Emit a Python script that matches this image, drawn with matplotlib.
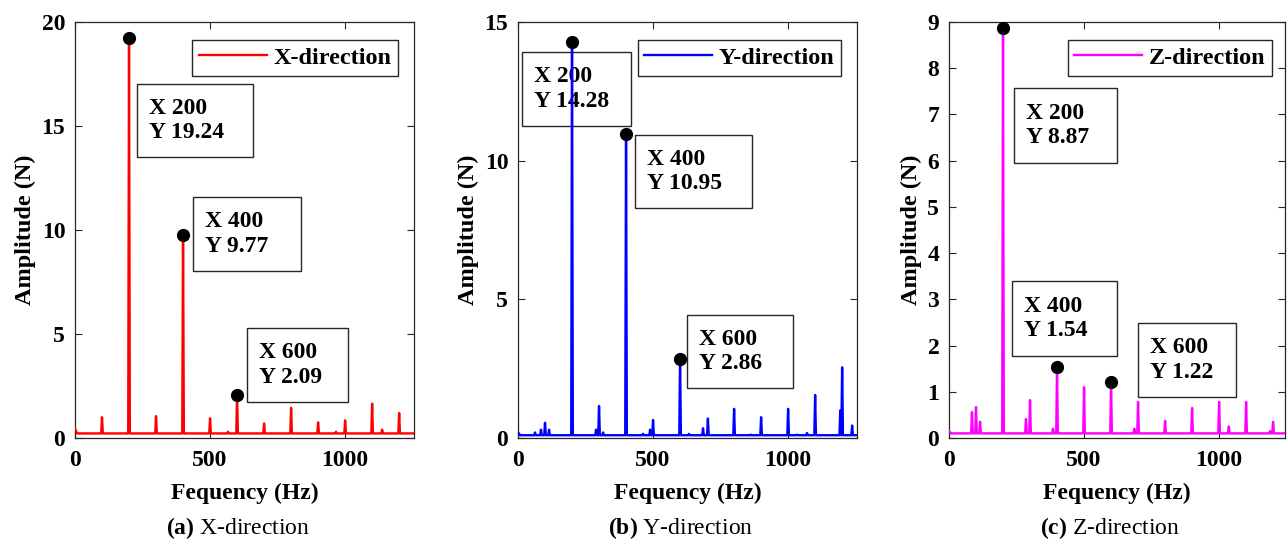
import matplotlib
matplotlib.use('Agg')
import matplotlib.pyplot as plt
from matplotlib.patches import Rectangle
import numpy as np


# =============================================================================
# DATA
# =============================================================================

# peaks (frequency in Hz, amplitude in N)
x_peak_f = [100, 200, 300, 400, 500, 566, 600, 700, 800, 900, 966, 1000, 1100, 1137, 1200]
x_peak_a = [1.0, 19.24, 1.05, 9.77, 0.95, 0.3, 2.09, 0.7, 1.45, 0.75, 0.3, 0.85, 1.65, 0.4, 1.2]
x_floor = 0.22
x_start = 0.45

y_peak_f = [63, 85, 100, 115, 200, 289, 300, 315, 400, 463, 489, 500, 600, 633, 685, 703,
            800, 862, 900, 1000, 1033, 1070, 1100, 1193, 1200, 1237]
y_peak_a = [0.2, 0.3, 0.55, 0.3, 14.28, 0.3, 1.15, 0.2, 10.95, 0.15, 0.3, 0.65, 2.86, 0.15, 0.35, 0.7,
            1.05, 0.12, 0.75, 1.05, 0.12, 0.18, 1.55, 1.0, 2.55, 0.45]
y_floor = 0.1
y_start = 0.2

z_peak_f = [85, 100, 115, 200, 285, 300, 385, 400, 500, 600, 643, 686, 700, 800, 900,
            1000, 1036, 1100, 1189, 1200]
z_peak_a = [0.56, 0.67, 0.35, 8.87, 0.41, 0.82, 0.2, 1.54, 1.1, 1.22, 0.1, 0.2, 0.78, 0.37, 0.65,
            0.78, 0.25, 0.78, 0.15, 0.35]
z_floor = 0.1
z_start = 0.15

tip_f = [200, 400, 600]
x_tip_a = [19.24, 9.77, 2.09]
y_tip_a = [14.28, 10.95, 2.86]
z_tip_a = [8.87, 1.54, 1.22]

names = ['X-direction', 'Y-direction', 'Z-direction']
letters = ['a', 'b', 'c']
colors = ['#ff0000', '#0000ff', '#ff00ff']
ylims = [20, 15, 9]
yticks = [[0, 5, 10, 15, 20], [0, 5, 10, 15], list(range(0, 10))]


# =============================================================================
# LAYOUT (figure pixels)
# =============================================================================

W, H = 1288, 541
axes_px = [(75, 22, 414, 438), (518, 22, 857, 438), (949, 22, 1285, 438)]
xmax = [1255, 1255, 1244]
legend_px = [(188, 40, 398, 75), (631, 40, 841, 75), (1063, 40, 1272, 75)]
boxes_px = [[(137, 84, 253, 157), (193, 197, 301, 271), (247, 328, 348, 402)],
            [(522, 52, 631, 126), (635, 135, 752, 208), (687, 315, 793, 388)],
            [(1014, 88, 1117, 163), (1012, 281, 1117, 356), (1138, 323, 1236, 397)]]

plt.rcParams['font.family'] = ['Liberation Serif', 'DejaVu Serif']
plt.rcParams['font.weight'] = 'bold'
plt.rcParams['mathtext.fontset'] = 'custom'
plt.rcParams['mathtext.rm'] = 'Liberation Serif'
plt.rcParams['mathtext.bf'] = 'Liberation Serif:bold'
FS = 17
EDGE = '#262626'


def spectrum(peak_f, peak_a, floor, start, fmax, hw=3.):
    """
    Builds the polyline of a line spectrum from the listed peaks.
    """
    f = [0., 8.]
    a = [start, floor]
    for i in range(len(peak_f)):
        f += [peak_f[i]-hw, peak_f[i], peak_f[i]+hw]
        a += [floor, peak_a[i], floor]
    f += [fmax]
    a += [floor]
    return np.array(f), np.array(a)


def fig_rect(x0, y0, x1, y1):
    return [x0/W, 1.-y1/H, (x1-x0)/W, (y1-y0)/H]


# =============================================================================
# MAIN
# =============================================================================

fig = plt.figure(figsize=(W/100., H/100.), dpi=100)

peaks = [(x_peak_f, x_peak_a, x_floor, x_start),
         (y_peak_f, y_peak_a, y_floor, y_start),
         (z_peak_f, z_peak_a, z_floor, z_start)]
tips = [x_tip_a, y_tip_a, z_tip_a]

for k in range(3):
    ax = fig.add_axes(fig_rect(*axes_px[k]))
    pf, pa, fl, st = peaks[k]
    f, a = spectrum(pf, pa, fl, st, xmax[k])
    ln, = ax.plot(f, a, color=colors[k], lw=1.7, zorder=3, label=names[k])
    ax.plot(tip_f, tips[k], 'o', color='black', ms=8.5, zorder=5)

    ax.set_xlim(0, xmax[k])
    ax.set_ylim(0, ylims[k])
    ax.set_xticks([0, 500, 1000])
    ax.set_yticks(yticks[k])
    ax.tick_params(direction='in', top=True, right=True, length=5, width=0.8,
                   color=EDGE, labelsize=FS, pad=7)
    ax.tick_params(axis='x', pad=9)
    for s in ax.spines.values():
        s.set_color(EDGE)
        s.set_linewidth(0.9)
    ax.set_xlabel('Fequency (Hz)', fontsize=FS, fontweight='bold', labelpad=8)
    ax.set_ylabel('Amplitude (N)', fontsize=FS+0.5, fontweight='bold', labelpad=4)

    # data tip boxes, under the spectrum line
    for i in range(3):
        x0, y0, x1, y1 = boxes_px[k][i]
        r = fig_rect(x0, y0, x1, y1)
        ax.add_patch(Rectangle((r[0], r[1]), r[2], r[3], transform=fig.transFigure,
                               facecolor='white', edgecolor=EDGE, lw=1.0, zorder=1,
                               clip_on=False))
        txt = 'X %d\nY %.2f' % (tip_f[i], tips[k][i])
        ax.text((x0+12)/W, 1.-(y0+y1)/2./H, txt, transform=fig.transFigure,
                fontsize=FS, fontweight='bold', ha='left', va='center',
                linespacing=1.2, zorder=2)

    # legend
    lx0, ly0, lx1, ly1 = legend_px[k]
    ax0, ay0, ax1, ay1 = axes_px[k]
    leg = ax.legend(handles=[ln], loc='upper right',
                    bbox_to_anchor=((lx1-ax0)/(ax1-ax0), (ay1-ly0)/(ay1-ay0)),
                    borderaxespad=0., fancybox=False, framealpha=1., edgecolor=EDGE,
                    prop={'size': FS+0.5, 'weight': 'bold'}, handlelength=2.8,
                    handletextpad=0.25, borderpad=0.28)
    leg.get_frame().set_linewidth(1.0)
    leg.set_zorder(6)

    # caption
    cx = (ax0+ax1)/2./W - 7./W
    fig.text(cx, 1.-528./H, r'$\mathbf{(%s)}$ %s' % (letters[k], names[k]),
             fontsize=FS, fontweight='normal', ha='center', va='center')

fig.savefig('out.png', dpi=100)
